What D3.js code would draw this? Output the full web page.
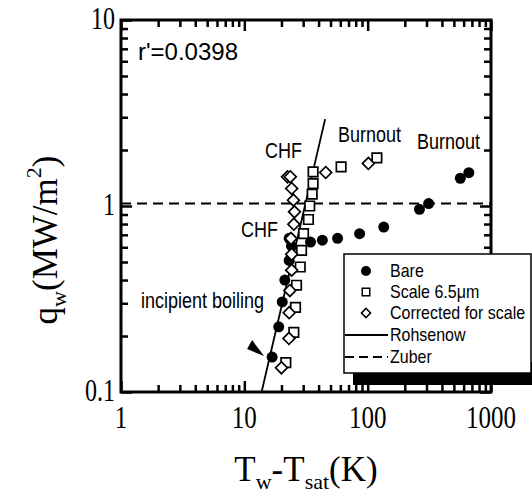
<!DOCTYPE html>
<html>
<head>
<meta charset="utf-8">
<script src="https://cdn.jsdelivr.net/npm/d3@7"></script>
<style>
  body { margin: 0; background: #fff; }
  svg { display: block; }
</style>
</head>
<body>
<div id="chart"></div>
<script>
(function () {
  'use strict';

  // Bare surface (filled circles)
  var bareX = [16.8, 19.0, 20.3, 21.3, 23.1, 24.1, 23.1, 34.4, 42.9, 57, 86, 135, 263, 312, 564, 661];
  var bareY = [0.154, 0.224, 0.305, 0.40, 0.51, 0.61, 0.67, 0.64, 0.655, 0.67, 0.71, 0.77, 0.96, 1.03, 1.41, 1.51];

  // Scale 6.5um (open squares)
  var scaleX = [21.7, 25.2, 26.0, 26.5, 28.4, 29.1, 30.2, 33.1, 33.9, 35.5, 36.1, 36.1, 60.9, 118.8];
  var scaleY = [0.144, 0.209, 0.285, 0.375, 0.47, 0.578, 0.711, 0.846, 1.00, 1.158, 1.32, 1.527, 1.625, 1.816];

  // Corrected for scale (open diamonds)
  var corrX = [20.0, 23.0, 23.1, 23.4, 24.2, 24.2, 23.9, 25.2, 25.5, 25.0, 24.2, 22.4, 23.6, 45.7, 101.3];
  var corrY = [0.135, 0.194, 0.267, 0.351, 0.452, 0.55, 0.669, 0.798, 0.93, 1.075, 1.242, 1.436, 1.436, 1.514, 1.694];

  // correlations
  var rohsenowX = [13.8, 45.2];
  var rohsenowY = [0.1, 2.93];
  var zuberX = [1, 1000];
  var zuberY = [1.03, 1.03];

  var xTicks = [1, 10, 100, 1000];
  var xTickLabels = ['1', '10', '100', '1000'];
  var yTicks = [0.1, 1, 10];
  var yTickLabels = ['0.1', '1', '10'];
  var legendLabels = ['Bare', 'Scale 6.5\u03bcm', 'Corrected for scale', 'Rohsenow', 'Zuber'];

  var W = 532, H = 497;
  var left = 121, right = 491, top = 20, bottom = 392;

  var svg = d3.select('#chart').append('svg').attr('width', W).attr('height', H);
  var x = d3.scaleLog().domain([1, 1000]).range([left, right]);
  var y = d3.scaleLog().domain([0.1, 10]).range([bottom, top]);

  var serif = '"Liberation Serif", "Times New Roman", serif';
  var sans = '"Liberation Sans", Arial, sans-serif';

  // stretched text, the scan is a bit taller than wide
  function label(g, tx, ty, str, size, family, anchor, sy) {
    return g.append('text')
      .attr('transform', 'translate(' + tx + ',' + ty + ') scale(1,' + (sy || 1) + ')')
      .attr('font-family', family).attr('font-size', size)
      .attr('text-anchor', anchor || 'start')
      .attr('fill', '#000')
      .text(str);
  }

  // ticks: minor + major, all pointing inwards
  var minorX = x.ticks().filter(function (d) { return xTicks.indexOf(d) < 0; });
  var minorY = y.ticks().filter(function (d) { return yTicks.indexOf(d) < 0; });

  function axisGroup(axis, tx, ty) {
    var g = svg.append('g').attr('transform', 'translate(' + tx + ',' + ty + ')').call(axis);
    g.select('.domain').remove();
    g.selectAll('text').remove();
    g.selectAll('line').attr('stroke', '#000').attr('stroke-width', 2.5);
    return g;
  }
  axisGroup(d3.axisBottom(x).tickValues(minorX).tickSize(-7), 0, bottom);
  axisGroup(d3.axisBottom(x).tickValues(xTicks).tickSize(-11), 0, bottom);
  axisGroup(d3.axisTop(x).tickValues(minorX).tickSize(-7), 0, top);
  axisGroup(d3.axisTop(x).tickValues(xTicks).tickSize(-11), 0, top);
  axisGroup(d3.axisLeft(y).tickValues(minorY).tickSize(-7), left, 0);
  axisGroup(d3.axisLeft(y).tickValues(yTicks).tickSize(-11), left, 0);
  axisGroup(d3.axisRight(y).tickValues(minorY).tickSize(-7), right, 0);
  axisGroup(d3.axisRight(y).tickValues(yTicks).tickSize(-11), right, 0);

  svg.append('rect')
    .attr('x', left).attr('y', top)
    .attr('width', right - left).attr('height', bottom - top)
    .attr('fill', 'none').attr('stroke', '#000').attr('stroke-width', 3);

  // tick labels
  xTicks.forEach(function (d, i) {
    label(svg, x(d), 428, xTickLabels[i], 25, serif, 'middle', 1.28);
  });
  yTicks.forEach(function (d, i) {
    label(svg, left - 6, y(d) + 9, yTickLabels[i], 24, serif, 'end', 1.28);
  });

  // axis titles
  var xt = svg.append('text')
    .attr('x', 306).attr('y', 481)
    .attr('font-family', serif).attr('font-size', 35)
    .attr('text-anchor', 'middle');
  xt.append('tspan').text('T');
  xt.append('tspan').attr('font-size', 22).attr('dy', 8).text('w');
  xt.append('tspan').attr('dy', -8).text('-T');
  xt.append('tspan').attr('font-size', 22).attr('dy', 8).text('sat');
  xt.append('tspan').attr('dy', -8).text('(K)');

  var yt = svg.append('text')
    .attr('transform', 'translate(57,240) rotate(-90)')
    .attr('font-family', serif).attr('font-size', 35)
    .attr('text-anchor', 'middle');
  yt.append('tspan').text('q');
  yt.append('tspan').attr('font-size', 22).attr('dy', 9).text('w');
  yt.append('tspan').attr('dy', -9).text('(MW/m');
  yt.append('tspan').attr('font-size', 22).attr('dy', -16).text('2');
  yt.append('tspan').attr('dy', 16).text(')');

  // correlation lines
  var line = d3.line().x(function (d) { return x(d[0]); }).y(function (d) { return y(d[1]); });
  svg.append('path').datum(d3.zip(rohsenowX, rohsenowY)).attr('d', line)
    .attr('fill', 'none').attr('stroke', '#000').attr('stroke-width', 1.8);
  svg.append('path').datum(d3.zip(zuberX, zuberY)).attr('d', line)
    .attr('fill', 'none').attr('stroke', '#000').attr('stroke-width', 2)
    .attr('stroke-dasharray', '10,6');

  // data
  var sq = d3.symbol().type(d3.symbolSquare).size(90);
  var dm = d3.symbol().type(d3.symbolSquare).size(70);

  svg.append('g').selectAll('circle').data(d3.zip(bareX, bareY)).enter().append('circle')
    .attr('cx', function (d) { return x(d[0]); })
    .attr('cy', function (d) { return y(d[1]); })
    .attr('r', 5.5).attr('fill', '#000');

  svg.append('g').selectAll('path').data(d3.zip(scaleX, scaleY)).enter().append('path')
    .attr('d', sq)
    .attr('transform', function (d) { return 'translate(' + x(d[0]) + ',' + y(d[1]) + ')'; })
    .attr('fill', '#fff').attr('stroke', '#000').attr('stroke-width', 1.7);

  svg.append('g').selectAll('path').data(d3.zip(corrX, corrY)).enter().append('path')
    .attr('d', dm)
    .attr('transform', function (d) { return 'translate(' + x(d[0]) + ',' + y(d[1]) + ') rotate(45)'; })
    .attr('fill', '#fff').attr('stroke', '#000').attr('stroke-width', 1.7);

  // annotations
  label(svg, 138, 60, "r'=0.0398", 24, sans, 'start', 1);
  label(svg, 265, 158, 'CHF', 18, sans, 'start', 1.18);
  label(svg, 241, 237, 'CHF', 18, sans, 'start', 1.18);
  label(svg, 338, 142, 'Burnout', 18, sans, 'start', 1.18);
  label(svg, 417, 149, 'Burnout', 18, sans, 'start', 1.18);
  label(svg, 141, 308, 'incipient boiling', 18, sans, 'start', 1.18);

  // arrow head toward the first bare point
  var ax = x(bareX[0]), ay = y(bareY[0]);
  svg.append('path')
    .attr('d', 'M' + (ax - 8) + ',' + (ay - 1) + 'L' + (ax - 20) + ',' + (ay - 17) + 'L' + (ax - 25) + ',' + (ay - 8) + 'Z')
    .attr('fill', '#000');

  // legend with drop shadow
  var lg = svg.append('g');
  lg.append('rect').attr('x', 353).attr('y', 362).attr('width', 180).attr('height', 23).attr('fill', '#000');
  lg.append('rect').attr('x', 344).attr('y', 254).attr('width', 187).attr('height', 119)
    .attr('fill', '#fff').attr('stroke', '#000').attr('stroke-width', 1.5);

  var rowY = [271, 292, 313, 335, 357];
  var symX = 366;
  lg.append('circle').attr('cx', symX).attr('cy', rowY[0]).attr('r', 5).attr('fill', '#000');
  lg.append('path').attr('d', d3.symbol().type(d3.symbolSquare).size(56)())
    .attr('transform', 'translate(' + symX + ',' + rowY[1] + ')')
    .attr('fill', '#fff').attr('stroke', '#000').attr('stroke-width', 1.5);
  lg.append('path').attr('d', d3.symbol().type(d3.symbolSquare).size(42)())
    .attr('transform', 'translate(' + symX + ',' + rowY[2] + ') rotate(45)')
    .attr('fill', '#fff').attr('stroke', '#000').attr('stroke-width', 1.5);
  lg.append('line').attr('x1', 345).attr('x2', 388).attr('y1', rowY[3]).attr('y2', rowY[3])
    .attr('stroke', '#000').attr('stroke-width', 1.8);
  lg.append('line').attr('x1', 345).attr('x2', 388).attr('y1', rowY[4]).attr('y2', rowY[4])
    .attr('stroke', '#000').attr('stroke-width', 1.8).attr('stroke-dasharray', '9,5');

  legendLabels.forEach(function (t, i) {
    label(lg, 390, rowY[i] + 6, t, 16, sans, 'start', 1.15);
  });
})();
</script>
</body>
</html>
